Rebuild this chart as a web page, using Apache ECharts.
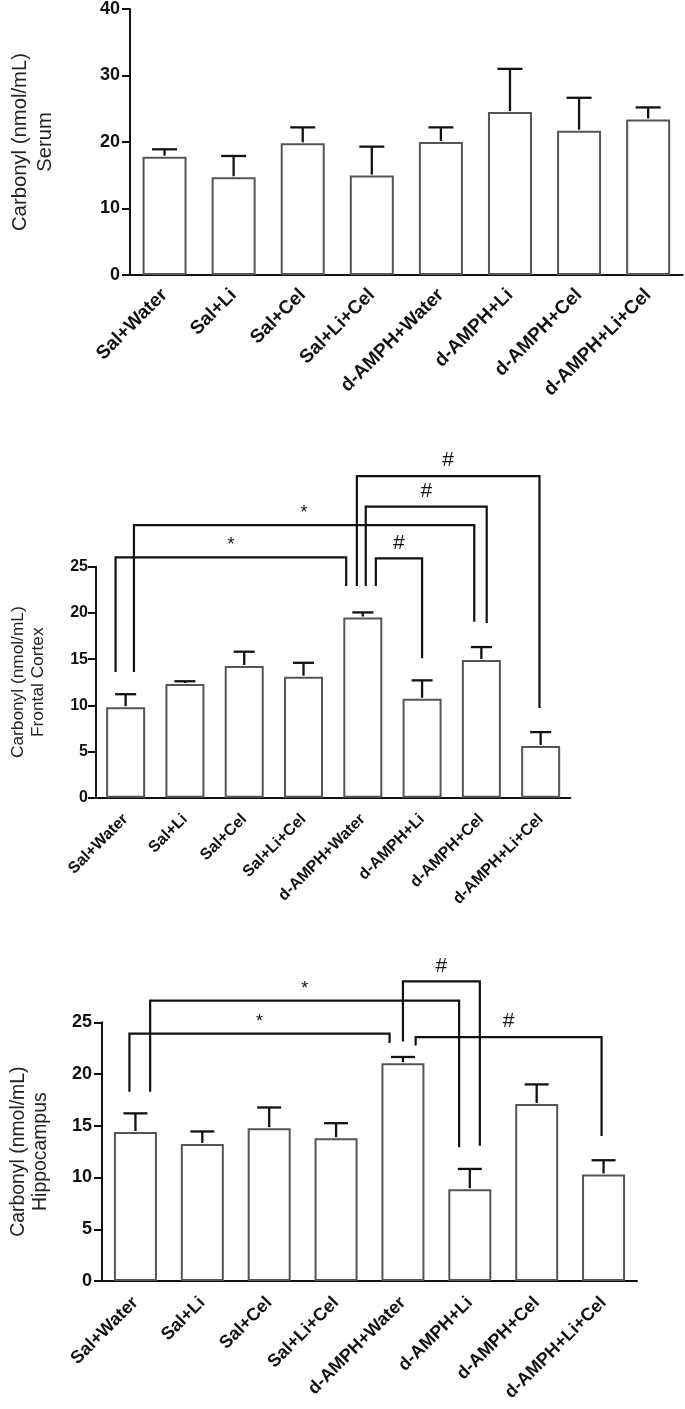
<!DOCTYPE html>
<html>
<head>
<meta charset="utf-8">
<script src="https://cdn.jsdelivr.net/npm/echarts@6/dist/echarts.min.js"></script>
<style>
html,body{margin:0;padding:0;background:#fff;}
#chart{width:685px;height:1409px;}
</style>
</head>
<body>
<div id="chart"></div>
<script>
// ---------------- data ----------------
const categories = ['Sal+Water','Sal+Li','Sal+Cel','Sal+Li+Cel','d-AMPH+Water','d-AMPH+Li','d-AMPH+Cel','d-AMPH+Li+Cel'];

const serumMean = [17.8, 14.7, 19.8, 14.95, 20.0, 24.5, 21.7, 23.4];
const serumSem  = [1.1, 3.2, 2.4, 4.35, 2.2, 6.5, 4.95, 1.8];

const frontalMean = [9.8, 12.3, 14.25, 13.1, 19.5, 10.7, 14.9, 5.6];
const frontalSem  = [1.4, 0.3, 1.55, 1.5, 0.55, 2.0, 1.4, 1.5];

const hippoMean = [14.4, 13.25, 14.77, 13.8, 21.05, 8.87, 17.1, 10.3];
const hippoSem  = [1.8, 1.2, 2.0, 1.45, 0.6, 1.96, 1.9, 1.37];

const serumTicks = {min: 0, max: 40, interval: 10};
const frontalTicks = {min: 0, max: 25, interval: 5};
const hippoTicks = {min: 0, max: 25, interval: 5};

// significance brackets: [leftCategoryPos, rightCategoryPos, topValue, leftLegEnd, rightLegEnd]
const frontalBrackets = [
  [-0.17, 3.72, 26.0, 13.6, 22.9],
  [0.14, 5.88, 29.5, 13.6, 19.05],
  [3.90, 6.98, 34.8, 22.9, 9.7],
  [4.05, 6.09, 31.5, 22.9, 18.9],
  [4.22, 5.00, 25.9, 22.9, 15.1]
];
const frontalMarks = ['*', '*', '#', '#', '#'];

const hippoBrackets = [
  [-0.09, 3.80, 23.9, 18.3, 23.0],
  [0.22, 4.84, 27.1, 18.3, 12.93],
  [4.00, 5.15, 28.95, 23.14, 13.06],
  [4.19, 6.97, 23.57, 22.76, 14.02]
];
const hippoMarks = ['*', '*', '#', '#'];

const yNames = ['Carbonyl (nmol/mL)\nSerum', 'Carbonyl (nmol/mL)\nFrontal Cortex', 'Carbonyl (nmol/mL)\nHippocampus'];

// ---------------- styling / layout ----------------
const FONT = 'Liberation Sans, Arial, sans-serif';
const panels = [
  {grid: {left: 122.7, top: 7.5, width: 560, height: 267.5}, ticks: serumTicks, mean: serumMean, sem: serumSem,
   tickFont: 18, tickMargin: 10, xFont: 19, xMargin: 17, nameFont: 20.3, nameLH: 25, nameGap: 72, barW: 44, cap: 25, brackets: null, marks: null},
  {grid: {left: 87.1, top: 566.7, width: 483.2, height: 231}, ticks: frontalTicks, mean: frontalMean, sem: frontalSem,
   tickFont: 16, tickMargin: 8, xFont: 16, xMargin: 19, nameFont: 17.3, nameLH: 20, nameGap: 48, barW: 39, cap: 21, brackets: frontalBrackets, marks: frontalMarks},
  {grid: {left: 96.2, top: 1022.3, width: 540.8, height: 258.7}, ticks: hippoTicks, mean: hippoMean, sem: hippoSem,
   tickFont: 18, tickMargin: 10, xFont: 18, xMargin: 19, nameFont: 19.4, nameLH: 22, nameGap: 50, barW: 43, cap: 24, brackets: hippoBrackets, marks: hippoMarks}
];

const grids = [], xAxes = [], yAxes = [], series = [];

panels.forEach((p, k) => {
  grids.push(Object.assign({containLabel: false}, p.grid));
  xAxes.push({
    type: 'category', gridIndex: k, data: categories,
    axisLine: {lineStyle: {color: '#111', width: 2}},
    axisTick: {alignWithLabel: true, length: 8, lineStyle: {color: '#111', width: 2}},
    axisLabel: {rotate: 45, interval: 0, margin: p.xMargin, color: '#111', fontWeight: 'bold', fontSize: p.xFont, fontFamily: FONT},
    splitLine: {show: false}
  });
  yAxes.push({
    type: 'value', gridIndex: k, min: p.ticks.min, max: p.ticks.max, interval: p.ticks.interval,
    name: yNames[k], nameLocation: 'middle', nameRotate: 90, nameGap: p.nameGap,
    nameTextStyle: {fontSize: p.nameFont, lineHeight: p.nameLH, color: '#222', fontFamily: FONT},
    axisLine: {show: true, lineStyle: {color: '#111', width: 2}},
    axisTick: {show: true, length: 8, lineStyle: {color: '#111', width: 2}},
    axisLabel: {color: '#111', fontWeight: 'bold', fontSize: p.tickFont, fontFamily: FONT, margin: p.tickMargin},
    splitLine: {show: false}
  });
  series.push({
    type: 'bar', xAxisIndex: k, yAxisIndex: k, data: p.mean, barWidth: p.barW,
    itemStyle: {color: '#fff', borderColor: '#555', borderWidth: 2},
    silent: true, animation: false, z: 2
  });
  const cap = p.cap;
  series.push({
    type: 'custom', xAxisIndex: k, yAxisIndex: k, animation: false, silent: true, z: 3,
    data: p.mean.map((m, i) => [i, m, m + p.sem[i]]),
    encode: {x: 0, y: [1, 2]},
    renderItem: function (params, api) {
      const lo = api.coord([api.value(0), api.value(1)]);
      const hi = api.coord([api.value(0), api.value(2)]);
      const st = {stroke: '#111', lineWidth: 2.3};
      return {type: 'group', children: [
        {type: 'line', shape: {x1: lo[0], y1: lo[1] - 1, x2: hi[0], y2: hi[1]}, style: st},
        {type: 'line', shape: {x1: hi[0] - cap / 2, y1: hi[1], x2: hi[0] + cap / 2, y2: hi[1]}, style: st}
      ]};
    }
  });
  if (p.brackets) {
    const marks = p.marks;
    series.push({
      type: 'custom', xAxisIndex: k, yAxisIndex: k, animation: false, silent: true, clip: false, z: 4,
      data: p.brackets.map(b => b.slice()),
      encode: {x: 0, y: 2},
      renderItem: function (params, api) {
        const x0 = api.coord([0, 0])[0];
        const band = api.size([1, 0])[0];
        const xl = x0 + api.value(0) * band;
        const xr = x0 + api.value(1) * band;
        const yt = api.coord([0, api.value(2)])[1];
        const yl = api.coord([0, api.value(3)])[1];
        const yr = api.coord([0, api.value(4)])[1];
        const mk = marks[params.dataIndex];
        return {type: 'group', children: [
          {type: 'polyline', shape: {points: [[xl, yl], [xl, yt], [xr, yt], [xr, yr]]},
           style: {stroke: '#111', lineWidth: 2.2, fill: null}},
          {type: 'text', x: (xl + xr) / 2, y: yt - (mk === '#' ? 5 : 3),
           style: {text: mk, fill: '#111', font: (mk === '#' ? '21px ' : '18px ') + FONT,
                   align: 'center', verticalAlign: 'bottom'}}
        ]};
      }
    });
  }
});

const chart = echarts.init(document.getElementById('chart'), null, {renderer: 'canvas'});
chart.setOption({
  animation: false,
  backgroundColor: '#fff',
  grid: grids, xAxis: xAxes, yAxis: yAxes, series: series
});
</script>
</body>
</html>
